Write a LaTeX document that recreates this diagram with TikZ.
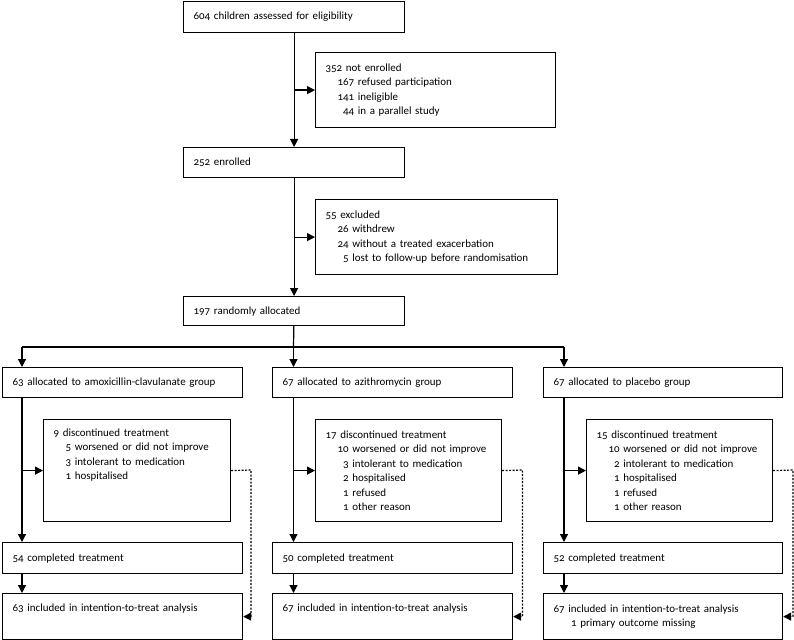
\documentclass[tikz,border=0pt]{standalone}
\usepackage{fontspec}
\setmainfont{Carlito}[Numbers=OldStyle]
\usetikzlibrary{arrows.meta}

\newcommand{\ind}{\hspace*{12bp}}

\begin{document}
\begin{tikzpicture}[x=1bp, y=-1bp, line width=1.2bp,
  box/.style={draw, anchor=north west, align=left, inner xsep=10bp, inner ysep=0bp,
    font=\fontsize{11}{14.5}\selectfont},
  arr/.style={-{Triangle[length=8bp,width=8bp]}},
  lost/.style={arr, dash pattern=on 2bp off 1.5bp}]
  \useasboundingbox (0,0) rectangle (794,640);

  % screening
  \node[box, text width=201bp, minimum height=31bp] (assess) at (183,1) {604 children assessed for eligibility};
  \node[box, text width=220bp, minimum height=75bp] (notenr) at (315,52)
    {352 not enrolled\\ \ind 167 refused participation\\ \ind 141 ineligible\\ \ind\phantom{0}44 in a parallel study};
  \node[box, text width=201bp, minimum height=30bp] (enrolled) at (183,147) {252 enrolled};
  \node[box, text width=222bp, minimum height=75bp] (excluded) at (315,199)
    {55 excluded\\ \ind 26 withdrew\\ \ind 24 without a treated exacerbation\\ \ind\phantom{0}5 lost to follow-up before randomisation};
  \node[box, text width=201bp, minimum height=29bp] (random) at (183,296) {197 randomly allocated};

  % groups
  \node[box, text width=220bp, minimum height=30bp] (grpA) at (2,367) {63 allocated to amoxicillin-clavulanate group};
  \node[box, text width=220bp, minimum height=30bp] (grpB) at (272,367) {67 allocated to azithromycin group};
  \node[box, text width=219bp, minimum height=30bp] (grpC) at (543,367) {67 allocated to placebo group};

  \node[box, text width=167bp, minimum height=102bp] (discA) at (43,419)
    {9 discontinued treatment\\ \ind 5 worsened or did not improve\\ \ind 3 intolerant to medication\\ \ind 1 hospitalised\\ \strut\\ \strut};
  \node[box, text width=166bp, minimum height=102bp] (discB) at (315,419)
    {17 discontinued treatment\\ \ind 10 worsened or did not improve\\ \ind\phantom{0}3 intolerant to medication\\ \ind\phantom{0}2 hospitalised\\ \ind\phantom{0}1 refused\\ \ind\phantom{0}1 other reason};
  \node[box, text width=166bp, minimum height=102bp] (discC) at (586,419)
    {15 discontinued treatment\\ \ind 10 worsened or did not improve\\ \ind\phantom{0}2 intolerant to medication\\ \ind\phantom{0}1 hospitalised\\ \ind\phantom{0}1 refused\\ \ind\phantom{0}1 other reason};

  \node[box, text width=220bp, minimum height=31bp] (compA) at (2,542) {54 completed treatment};
  \node[box, text width=220bp, minimum height=31bp] (compB) at (272,542) {50 completed treatment};
  \node[box, text width=219bp, minimum height=31bp] (compC) at (543,542) {52 completed treatment};

  \node[box, text width=220bp, minimum height=46bp] (ittA) at (2,593) {63 included in intention-to-treat analysis\\ \strut};
  \node[box, text width=220bp, minimum height=46bp] (ittB) at (272,593) {67 included in intention-to-treat analysis\\ \strut};
  \node[box, text width=219bp, minimum height=46bp] (ittC) at (543,593)
    {67 included in intention-to-treat analysis\\ \ind\phantom{0}1 primary outcome missing};

  % flow
  \draw[arr] (assess) -- (enrolled);
  \draw[arr] (assess.south |- notenr.west) -- (notenr.west);
  \draw[arr] (enrolled) -- (random);
  \draw[arr] (enrolled.south |- excluded.west) -- (excluded.west);

  \coordinate (lA) at (22,347);
  \coordinate (lB) at (293.5,347);
  \coordinate (lC) at (564,347);
  \draw (random) -- (lB);
  \draw (lA) -- (lC);

  \foreach \g/\x in {A/22, B/293.5, C/564} {
    \coordinate (d\g) at (\x+229,470);
    \draw[arr] (l\g) -- (l\g |- grp\g.north);
    \draw[arr] (l\g |- grp\g.south) -- (l\g |- comp\g.north);
    \draw[arr] (l\g |- disc\g.west) -- (disc\g.west);
    \draw[arr] (l\g |- comp\g.south) -- (l\g |- itt\g.north);
    \draw[lost] (disc\g.east) -- (d\g) |- (itt\g.east);
  }
\end{tikzpicture}
\end{document}
